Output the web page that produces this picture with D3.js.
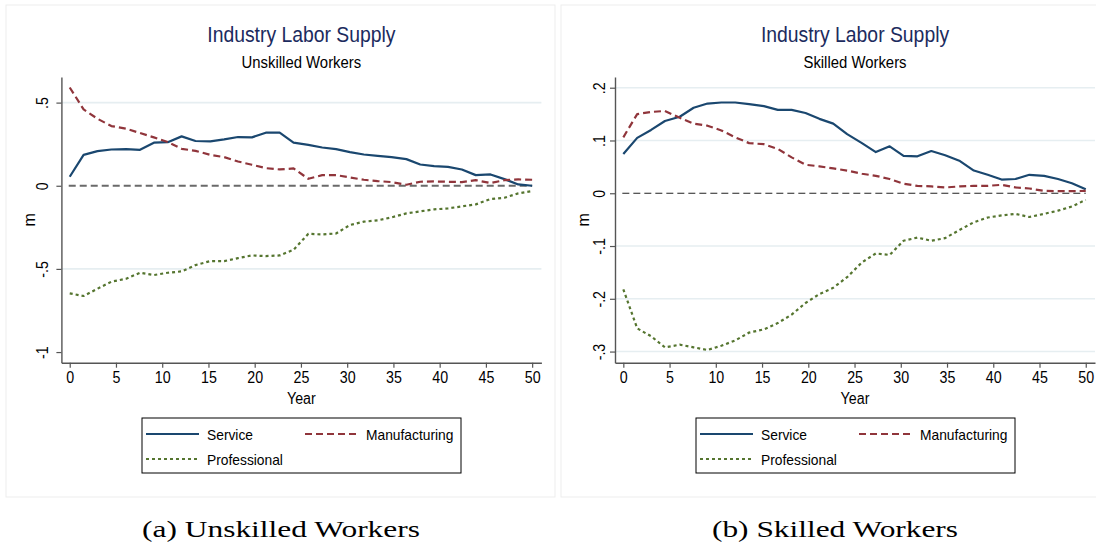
<!DOCTYPE html>
<html><head><meta charset="utf-8">
<script src="https://cdn.jsdelivr.net/npm/d3@7"></script>
<style>body{margin:0;background:#fff}svg{display:block}</style>
</head><body><svg id="c" width="1096" height="544"></svg>
<script>
// ---------- data ----------
const years = [0,1.5,3.0,4.5,6.1,7.6,9.1,10.6,12.1,13.6,15.2,16.7,18.2,19.7,21.2,22.7,24.2,25.8,27.3,28.8,30.3,31.8,33.3,34.8,36.4,37.9,39.4,40.9,42.4,43.9,45.5,47.0,48.5,50];

const unskilledService = [0.054,0.186,0.208,0.218,0.220,0.216,0.259,0.262,0.297,0.269,0.267,0.279,0.293,0.291,0.319,0.319,0.259,0.246,0.230,0.220,0.202,0.188,0.180,0.172,0.160,0.128,0.118,0.114,0.098,0.064,0.068,0.040,0.008,0.0];
const unskilledManufacturing = [0.591,0.459,0.403,0.359,0.343,0.317,0.291,0.263,0.222,0.210,0.186,0.172,0.146,0.126,0.106,0.098,0.104,0.042,0.064,0.064,0.050,0.036,0.028,0.022,0.006,0.024,0.026,0.024,0.022,0.034,0.016,0.034,0.038,0.036];
const unskilledProfessional = [-0.647,-0.663,-0.619,-0.577,-0.559,-0.523,-0.537,-0.523,-0.515,-0.477,-0.453,-0.453,-0.435,-0.419,-0.423,-0.419,-0.385,-0.289,-0.293,-0.287,-0.236,-0.216,-0.208,-0.190,-0.166,-0.154,-0.142,-0.136,-0.124,-0.112,-0.080,-0.072,-0.046,-0.032];

const skilledService = [0.0745,0.105,0.120,0.137,0.145,0.162,0.170,0.172,0.172,0.169,0.165,0.158,0.158,0.152,0.141,0.132,0.112,0.095,0.078,0.089,0.071,0.070,0.080,0.072,0.061,0.043,0.035,0.026,0.027,0.035,0.033,0.027,0.019,0.0076];
const skilledManufacturing = [0.106,0.150,0.154,0.156,0.143,0.132,0.128,0.119,0.106,0.095,0.093,0.084,0.068,0.054,0.051,0.047,0.043,0.037,0.033,0.027,0.018,0.014,0.013,0.011,0.013,0.014,0.014,0.016,0.011,0.009,0.0044,0.004,0.004,0.0044];
const skilledProfessional = [-0.182,-0.256,-0.271,-0.292,-0.287,-0.292,-0.297,-0.289,-0.279,-0.264,-0.258,-0.246,-0.230,-0.208,-0.191,-0.179,-0.159,-0.131,-0.114,-0.117,-0.090,-0.084,-0.090,-0.085,-0.069,-0.055,-0.046,-0.042,-0.039,-0.045,-0.039,-0.033,-0.025,-0.0126];

const xTicks = [0,5,10,15,20,25,30,35,40,45,50];
const unskilledTicks = [-1,-0.5,0,0.5];
const unskilledTickLabels = ["-1","-.5","0",".5"];
const skilledTicks = [-0.3,-0.2,-0.1,0,0.1,0.2];
const skilledTickLabels = ["-.3","-.2","-.1","0",".1",".2"];
const seriesNames = ["Service","Manufacturing","Professional"];
const mainTitle = "Industry Labor Supply";
const subTitles = ["Unskilled Workers","Skilled Workers"];
const captions = ["(a) Unskilled Workers","(b) Skilled Workers"];

// ---------- drawing ----------
const NARROW = "'Liberation Sans Narrow','Arial Narrow','Liberation Sans',sans-serif";
const SERIF = "'Liberation Serif','DejaVu Serif',serif";
const colors = ["#1a476f","#90353b","#55752f"];
const dashes = [null,"7,4","3,3"];
const SQUEEZE = 0.89;

const svg = d3.select("#c");

function condense(sel, f){
  sel.each(function(){
    const w = this.getComputedTextLength();
    d3.select(this).attr("textLength", w*f).attr("lengthAdjust","spacingAndGlyphs");
  });
}

function panel(o){
  const g = svg.append("g");
  g.append("rect").attr("x",o.fx).attr("y",5).attr("width",o.fw).attr("height",492)
    .attr("fill","none").attr("stroke","#ededed").attr("stroke-width",1);

  const x = d3.scaleLinear().domain([-0.9,51]).range([o.ax, o.ax+480]);
  const y = d3.scaleLinear().domain(o.yDomain).range([362.7,77]);

  g.selectAll("line.grid").data(o.grid).join("line")
    .attr("x1",o.ax).attr("x2",o.ax+480).attr("y1",d=>y(d)).attr("y2",d=>y(d))
    .attr("stroke","#e6eef1").attr("stroke-width",1.6);

  g.append("line").attr("x1",x(0)-1).attr("x2",x(50)).attr("y1",y(0)).attr("y2",y(0))
    .attr("stroke",o.zeroColor).attr("stroke-width",o.zeroWidth).attr("stroke-dasharray","7,4");

  const line = d3.line().x((d,i)=>x(years[i])).y(d=>y(d));
  o.series.forEach((s,k)=>{
    g.append("path").datum(s).attr("d",line).attr("fill","none")
      .attr("stroke",colors[k]).attr("stroke-width",2.2)
      .attr("stroke-dasharray",dashes[k]).attr("stroke-linejoin","round");
  });

  const yAxis = d3.axisLeft(y).tickValues(o.ticks).tickSize(5).tickSizeOuter(0)
    .tickFormat((d,i)=>o.tickLabels[i]);
  const ya = g.append("g").attr("transform",`translate(${o.ax},0)`).call(yAxis);
  ya.selectAll(".tick text").attr("transform","rotate(-90)").attr("x",0).attr("y",-o.labGap)
    .attr("dy",0).attr("text-anchor","middle");
  const xAxis = d3.axisBottom(x).tickValues(xTicks).tickSize(5).tickSizeOuter(0);
  const xa = g.append("g").attr("transform","translate(0,362.7)").call(xAxis);
  xa.selectAll(".tick text").attr("y",9).attr("dy","0.71em");
  [ya,xa].forEach(a=>{
    a.attr("font-family",NARROW).attr("font-size",16);
    a.selectAll(".domain").attr("stroke","#555").attr("stroke-width",1.4);
    a.selectAll(".tick line").attr("stroke","#555").attr("stroke-width",1.2);
    a.selectAll(".tick text").attr("fill","#000");
    condense(a.selectAll(".tick text"), SQUEEZE);
  });

  g.append("text").attr("transform",`translate(${o.ax-26},${(77+362.7)/2}) rotate(-90)`)
    .attr("text-anchor","middle").attr("font-family",NARROW).attr("font-size",16).text("m");
  const cx = o.ax+240;
  const yr = g.append("text").attr("x",cx).attr("y",404).attr("text-anchor","middle")
    .attr("font-family",NARROW).attr("font-size",16).text("Year");
  condense(yr, SQUEEZE);

  const t1 = g.append("text").attr("x",cx).attr("y",41.5).attr("text-anchor","middle")
    .attr("font-family",NARROW).attr("font-size",21.5).attr("fill","#1c2b5e").text(mainTitle);
  const t2 = g.append("text").attr("x",cx).attr("y",67.5).attr("text-anchor","middle")
    .attr("font-family",NARROW).attr("font-size",16).attr("fill","#000").text(o.subtitle);
  condense(t1, 0.9); condense(t2, 0.93);

  const L = g.append("g").attr("transform",`translate(${o.legX},418)`);
  L.append("rect").attr("width",319).attr("height",55).attr("fill","#fff")
    .attr("stroke","#000").attr("stroke-width",1);
  const pos = [[4,16],[163,16],[4,41]];
  seriesNames.forEach((n,k)=>{
    const [px,py] = pos[k];
    L.append("line").attr("x1",px).attr("x2",px+53).attr("y1",py).attr("y2",py)
      .attr("stroke",colors[k]).attr("stroke-width",2.2).attr("stroke-dasharray",dashes[k]);
    const t = L.append("text").attr("x",px+61).attr("y",py+5.5).attr("font-family",NARROW)
      .attr("font-size",15).text(n);
    condense(t, 0.92);
  });

  svg.append("text").attr("x",o.capX).attr("y",537).attr("text-anchor","middle")
    .attr("font-family",SERIF).attr("font-size",24).attr("textLength",o.capW)
    .attr("lengthAdjust","spacingAndGlyphs").text(o.caption);
}

panel({fx:6, fw:549, ax:61.4, labGap:13, yDomain:[-1.064,0.654],
  grid:[-0.5,0.5], zeroColor:"#6a6a6a", zeroWidth:2.2,
  ticks:unskilledTicks, tickLabels:unskilledTickLabels,
  series:[unskilledService,unskilledManufacturing,unskilledProfessional],
  subtitle:subTitles[0], legX:142, capX:281, capW:278, caption:captions[0]});

panel({fx:561, fw:560, ax:615, labGap:10, yDomain:[-0.3211,0.2203],
  grid:[-0.3,-0.2,-0.1,0.1,0.2], zeroColor:"#222", zeroWidth:1.2,
  ticks:skilledTicks, tickLabels:skilledTickLabels,
  series:[skilledService,skilledManufacturing,skilledProfessional],
  subtitle:subTitles[1], legX:696, capX:835, capW:246, caption:captions[1]});
</script>
</body></html>
